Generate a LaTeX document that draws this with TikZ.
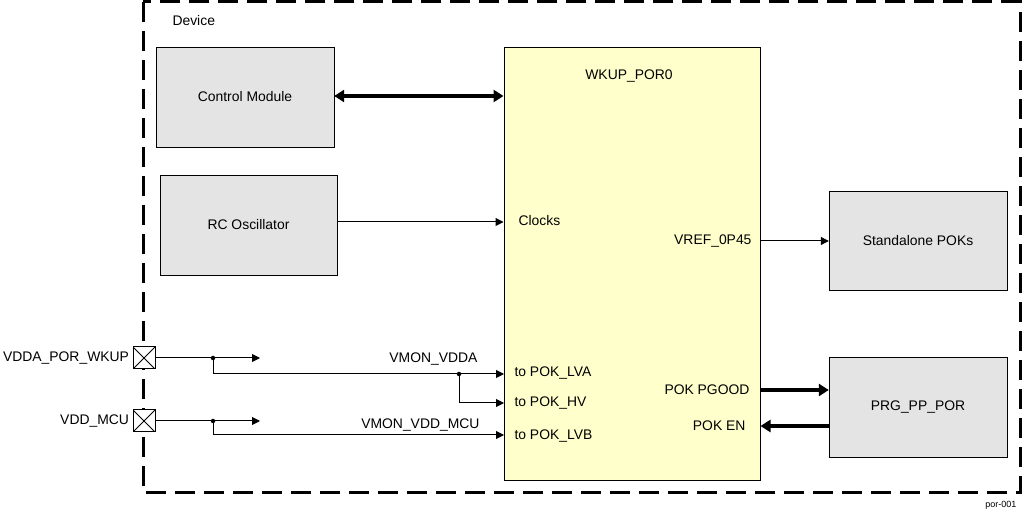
\documentclass[tikz,border=0pt]{standalone}
\usepackage{fontspec}
\setmainfont{Liberation Sans}
\usetikzlibrary{arrows.meta}
\definecolor{blockgray}{HTML}{E4E4E4}
\definecolor{poryellow}{HTML}{FFFFCC}
\begin{document}
\begin{tikzpicture}[x=1pt,y=-1pt,
        font=\fontsize{13.9}{16}\selectfont,
        block/.style={draw,fill=blockgray,minimum width=178pt,minimum height=100pt,inner sep=0pt},
        sig/.style={line width=1pt,-{Triangle[length=8pt,width=8pt]}},
        bus/.style={line width=4pt,-{Triangle[length=10pt,width=12pt]}},
        pad/.style={draw,line width=1pt,fill=white,minimum size=22pt,inner sep=0pt,
            path picture={\draw (path picture bounding box.south west) -- (path picture bounding box.north east)
            (path picture bounding box.north west) -- (path picture bounding box.south east);}},
        dot/.style={circle,fill,inner sep=0pt,minimum size=4.5pt}]
        \useasboundingbox (0,0) rectangle (1023,510);
        % device outline
        \draw[line width=3pt,dash pattern=on 20pt off 9pt] (143,2) rectangle (1020,492);
        \node[anchor=west] (dev) at (169,21) {Device};
        % blocks
        \node[block] (ctrl) at (245,97) {Control Module};
        \node[block,minimum width=177pt] (rc) at (248.5,225) {RC Oscillator};
        \node[draw,line width=1pt,fill=poryellow,minimum width=256pt,minimum height=432pt] (wkup) at (632,264) {};
        \node (wkupname) at (629,76) {WKUP\_POR0};
        \node[block,minimum height=99pt] (spok) at (918,240.5) {Standalone POKs};
        \node[block] (prg) at (918,407) {PRG\_PP\_POR};
        % control and clocks
        \draw[line width=4pt,{Triangle[length=10pt,width=12pt]}-{Triangle[length=10pt,width=12pt]}] (ctrl.east |- 0,96) -- (wkup.west |- 0,96);
        \draw[sig] (rc.east |- 0,222) -- (wkup.west |- 0,222);
        \node[anchor=west] (clk) at (515,221) {Clocks};
        % outputs
        \node[anchor=east] (vref) at (755,241) {VREF\_0P45};
        \draw[sig] (wkup.east |- 0,241) -- (spok.west |- 0,241);
        \node[anchor=east] (pgood) at (753,390) {POK PGOOD};
        \draw[bus] (wkup.east |- 0,390) -- (prg.west |- 0,390);
        \node[anchor=east] (poken) at (749,426) {POK EN};
        \draw[bus] (prg.west |- 0,426) -- (wkup.east |- 0,426);
        % supply pads
        \node[pad] (padA) at (144,358) {};
        \node[anchor=east] (vdda) at (padA.west) {VDDA\_POR\_WKUP};
        \node[pad] (padB) at (144,421) {};
        \node[anchor=east] (vddmcu) at (padB.west) {VDD\_MCU};
        \node[dot] (jA) at (213,358) {};
        \node[dot] (jB) at (213,421) {};
        \node[dot] (jC) at (459,374) {};
        \coordinate (tA) at (260,358);
        \coordinate (tB) at (260,421);
        \coordinate (lva) at (504,374);
        \coordinate (hv) at (504,403);
        \coordinate (lvb) at (504,435);
        \draw[line width=1pt] (padA) -- (jA);
        \draw[sig] (jA) -- (tA);
        \draw[sig] (jA) |- (lva);
        \draw[sig] (jC) |- (hv);
        \draw[line width=1pt] (padB) -- (jB);
        \draw[sig] (jB) -- (tB);
        \draw[sig] (jB) |- (lvb);
        \node[anchor=east] (vmona) at (481,359) {VMON\_VDDA};
        \node[anchor=east] (vmonb) at (483,425) {VMON\_VDD\_MCU};
        \node[anchor=west] (tolva) at (511,373) {to POK\_LVA};
        \node[anchor=west] (tohv) at (511,403) {to POK\_HV};
        \node[anchor=west] (tolvb) at (511,436) {to POK\_LVB};
        \node[anchor=east,font=\fontsize{9}{10}\selectfont] (fig) at (1020,505) {por-001};
\end{tikzpicture}
\end{document}
